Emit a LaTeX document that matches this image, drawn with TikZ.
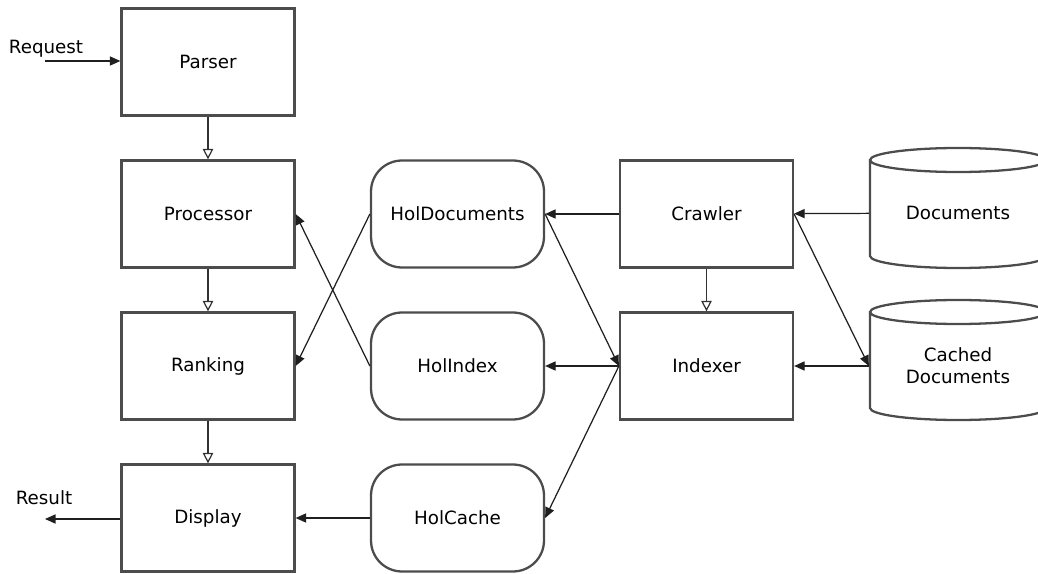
\documentclass[tikz,border=0pt]{standalone}
\usepackage{fontspec}
\setmainfont{DejaVu Sans}
\usetikzlibrary{arrows.meta}
\tikzset{
  block/.style={draw=black!70, line width=1.3pt, minimum width=3.46cm, minimum height=2.14cm, font=\fontsize{10.4}{12.5}\selectfont},
  holblock/.style={block, rounded corners=0.62cm},
  dbtext/.style={minimum width=3.52cm, minimum height=2.2cm, outer sep=0.65pt, align=center, font=\fontsize{10.4}{12.5}\selectfont},
  dbline/.style={draw=black!70, line width=1.3pt},
  flow/.style={draw=black!88, line width=0.7pt, -{Triangle[length=6pt,width=5.2pt]}},
  step flow/.style={draw=black!80, line width=0.7pt, -{Triangle[open,length=6pt,width=6pt,fill=white]}}
}
\begin{document}
\begin{tikzpicture}[x=0.02cm,y=0.02cm]
\useasboundingbox (0,0) rectangle (1038,-574);

\node[block] (parser) at (208,-62) {Parser};
\node[block] (processor) at (208,-214) {Processor};
\node[block] (ranking) at (208,-366) {Ranking};
\node[block] (display) at (208,-518) {Display};

\node[holblock] (holdocs) at (457.5,-214) {HolDocuments};
\node[holblock] (holindex) at (457.5,-366) {HolIndex};
\node[holblock] (holcache) at (457.5,-518) {HolCache};

\node[block] (crawler) at (706.5,-214) {Crawler};
\node[block] (indexer) at (706.5,-366) {Indexer};

% data stores
\path[dbline] (870,-160) -- (870,-256) arc[start angle=180,end angle=360,x radius=88,y radius=12] -- (1046,-160) arc[start angle=0,end angle=360,x radius=88,y radius=12];
\path[dbline] (870,-312) -- (870,-408) arc[start angle=180,end angle=360,x radius=88,y radius=12] -- (1046,-312) arc[start angle=0,end angle=360,x radius=88,y radius=12];
\node[dbtext] (docs) at (958,-213) {Documents};
\node[dbtext] (cached) at (958,-366) {Cached\\Documents};

% request and result
\node[font=\fontsize{10.4}{12.5}\selectfont] (request) at (46,-49) {Request};
\node[font=\fontsize{10.4}{12.5}\selectfont] (result) at (44,-498) {Result};
\coordinate (reqin) at (45,-61);
\coordinate (resout) at (45,-519);

\path[flow] (reqin) -- (parser.west |- reqin);
\path[flow] (display.west |- resout) -- (resout);

\path[step flow] (parser) -- (processor);
\path[step flow] (processor) -- (ranking);
\path[step flow] (ranking) -- (display);
\path[step flow] (crawler) -- (indexer);

\path[flow] (crawler) -- (holdocs);
\path[flow] (docs) -- (crawler);
\path[flow] (indexer) -- (holindex);
\path[flow] (cached) -- (indexer);
\path[flow] (holcache) -- (display);

\path[flow] (holdocs.east) -- (indexer.west);
\path[flow] (indexer.west) -- (holcache.east);
\path[flow] (crawler.east) -- (cached.west);
\path[flow] (holdocs.west) -- (ranking.east);
\path[flow] (holindex.west) -- (processor.east);
\end{tikzpicture}
\end{document}
